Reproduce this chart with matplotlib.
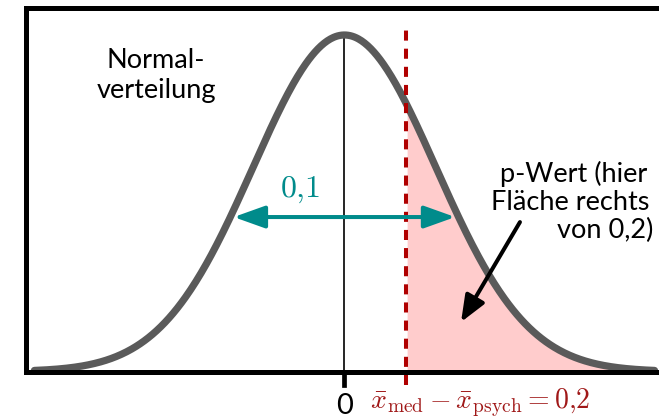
import numpy as np
import matplotlib.pyplot as plt
from matplotlib.patches import FancyArrowPatch

plt.rcParams['mathtext.fontset'] = 'cm'

# data
mu = 0.0
sigma = 0.295
observed = 0.2
spread_label = "0,1"
x_min, x_max = -1.0, 1.0
arrow_frac = 0.459

x = np.linspace(x_min, x_max, 600)
pdf = np.exp(-0.5 * ((x - mu) / sigma) ** 2) / (sigma * np.sqrt(2 * np.pi))
peak = pdf.max()

grey = "#5a5a5a"
teal = "#008b8b"
darkred = "#b00000"
textred = "#a01818"
font = "Lato"

fig = plt.figure(figsize=(6.59, 4.2), dpi=100)
ax = fig.add_axes([0, 0, 1, 1])
ax.set_xlim(-1.111, 1.0145)
ax.set_ylim(-48.5 / 336.5 * peak, 371.5 / 336.5 * peak)
ax.axis('off')

# frame
left = -1.026
top = 1.0817 * peak
ax.plot([left, left], [0, top], color='black', lw=3.6, solid_capstyle='projecting', zorder=5)
ax.plot([left, 1.1], [top, top], color='black', lw=3.6, zorder=5)
ax.plot([left, 1.1], [0, 0], color='black', lw=3.6, zorder=5)

# p-value area
mask = x >= observed
ax.fill_between(x[mask], 0, pdf[mask], color="#ffcccc", lw=0, zorder=1)

# mean line and tick
ax.plot([mu, mu], [0, peak], color='black', lw=1.2, zorder=2)
ax.plot([mu, mu], [-0.040 * peak, 0], color='black', lw=3.4, zorder=5)

# curve
ax.plot(x, pdf, color=grey, lw=5.2, solid_capstyle='round', zorder=3)

# observed difference
ax.plot([observed, observed], [-0.040 * peak, 1.018 * peak], color=darkred,
        lw=2.9, dashes=(2.5, 2.0), zorder=4)

# spread arrow
half = sigma * np.sqrt(-2 * np.log(arrow_frac)) - 0.011
ya = arrow_frac * peak
arr = FancyArrowPatch((mu - half, ya), (mu + half, ya),
                      arrowstyle='<|-|>,head_length=19,head_width=6.8',
                      mutation_scale=1, color=teal, lw=2.9,
                      shrinkA=0, shrinkB=0, zorder=6)
ax.add_patch(arr)
ax.text(-0.144, 0.5186 * peak, r"$" + spread_label.replace(",", "{,}") + "$",
        color=teal, fontsize=23, ha='center', va='baseline', zorder=7)

# p-value arrow
parr = FancyArrowPatch((0.566, 0.444 * peak), (0.376, 0.147 * peak),
                       arrowstyle='-|>,head_length=16,head_width=6.5',
                       mutation_scale=1, color='black', lw=2.9,
                       shrinkA=0, shrinkB=0, zorder=6)
ax.add_patch(parr)

# labels
ax.text(-0.608, 0.902 * peak, "Normal-", fontsize=19.5, family=font, ha='center', va='baseline')
ax.text(-0.608, 0.813 * peak, "verteilung", fontsize=19.5, family=font, ha='center', va='baseline')

ax.text(0.977, 0.563 * peak, "p-Wert (hier", fontsize=19.5, family=font, ha='right', va='baseline')
ax.text(0.983, 0.480 * peak, "Fläche rechts", fontsize=19.5, family=font, ha='right', va='baseline')
ax.text(0.995, 0.397 * peak, "von 0,2)", fontsize=19.5, family=font, ha='right', va='baseline')

ax.text(mu, -0.125 * peak, "0", fontsize=21, family=font, ha='center', va='baseline')
ax.text(0.082, -0.108 * peak, r"$\bar{x}_{\mathrm{med}} - \bar{x}_{\mathrm{psych}} = 0{,}2$",
        color=textred, fontsize=20, ha='left', va='baseline')

fig.savefig("out.png", dpi=100)
